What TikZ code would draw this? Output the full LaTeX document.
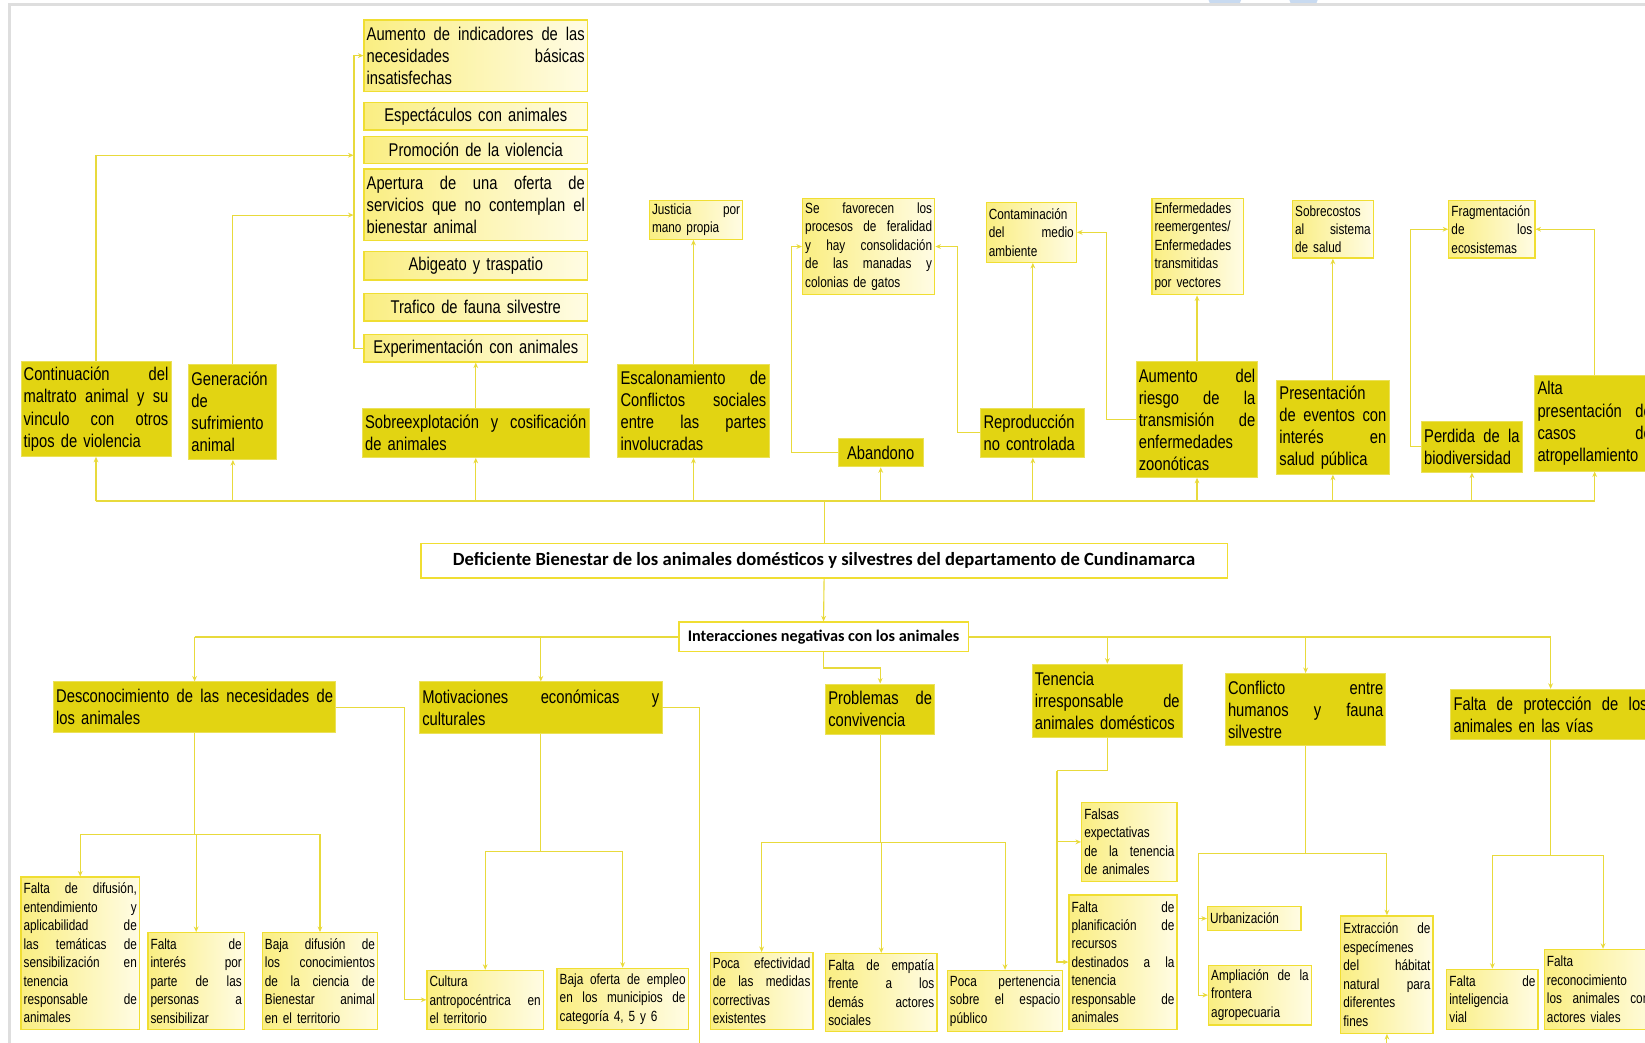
\documentclass[tikz,border=0pt]{standalone}
\usepackage{fontspec}
\setmainfont{Liberation Sans}[FakeStretch=0.8]
\newfontfamily\hdfont{Carlito}
\usepackage{tikz}
\usetikzlibrary{arrows.meta}

\definecolor{dkyel}{RGB}{226,212,18}
\definecolor{lnyel}{RGB}{232,218,60}
\definecolor{bdyel}{RGB}{240,222,50}
\definecolor{ltyelA}{RGB}{250,238,130}
\definecolor{ltyelB}{RGB}{255,252,228}
\definecolor{frgray}{RGB}{222,222,222}
\definecolor{blblue}{RGB}{200,218,240}

\newcommand{\bigtxt}{\fontsize{10}{12}\selectfont}
\newcommand{\smtxt}{\fontsize{8}{10}\selectfont}
% justified line inside a ragged node
\newcommand{\jl}[1]{\makebox[\linewidth][s]{\spaceskip=0.3em plus 1fil\relax #1}}

\begin{document}
\begin{tikzpicture}[
        x=0.02cm, y=-0.02cm,
        dark/.style={draw=dkyel!70!white, line width=0.5pt, fill=dkyel, font=\bigtxt, align=left, inner xsep=0.05cm, inner ysep=0.02cm},
        light/.style={draw=bdyel, line width=0.7pt, left color=ltyelA, right color=ltyelB, font=\bigtxt, align=left, inner xsep=0.05cm, inner ysep=0.02cm},
        lightsm/.style={light, font=\smtxt},
        head/.style={draw=bdyel, line width=0.8pt, fill=white, font=\hdfont\bfseries\fontsize{8.8}{10}\selectfont},
        ln/.style={draw=lnyel, line width=0.6pt},
        busln/.style={ln, line width=1.1pt},
        arr/.style={ln, -{Stealth[length=3pt,width=2.6pt]}}
    ]
    \useasboundingbox (0,0) rectangle (1568,994);

    % --- Page frame ---
    \fill[blblue] (1152,0) -- (1183,0) -- (1181,5) -- (1154,5) -- cycle;
    \fill[blblue] (1229,0) -- (1256,0) -- (1254,5) -- (1231,5) -- cycle;
    \draw[frgray, line width=1.5pt] (9,994) -- (9,4) -- (1568,4);

    % --- Effects: upper column ---
    \node[light, text width=4.16cm, minimum height=1.36cm] (indic) at (453.5,53) {\jl{Aumento de indicadores de las}\\ \jl{necesidades básicas}\\ insatisfechas};
    \node[light, text width=4.16cm, minimum height=0.52cm, align=center] (espec) at (453.5,111) {Espectáculos con animales};
    \node[light, text width=4.16cm, minimum height=0.52cm, align=center] (promo) at (453.5,143) {Promoción de la violencia};
    \node[light, text width=4.16cm, minimum height=1.36cm] (apert) at (453.5,195) {\jl{Apertura de una oferta de}\\ \jl{servicios que no contemplan el}\\ bienestar animal};
    \node[light, text width=4.16cm, minimum height=0.54cm, align=center] (abig) at (453.5,253.5) {Abigeato y traspatio};
    \node[light, text width=4.16cm, minimum height=0.52cm, align=center] (trafico) at (453.5,293) {Trafico de fauna silvestre};
    \node[light, text width=4.16cm, minimum height=0.52cm, align=center] (exper) at (453.5,332) {Experimentación con animales};

    % --- Effects: small boxes ---
    \node[lightsm, text width=1.68cm, minimum height=0.74cm] (justicia) at (663.5,209.5) {\jl{Justicia por}\\ mano propia};
    \node[lightsm, text width=2.42cm, minimum height=1.84cm] (feral) at (828,235) {\jl{Se favorecen los}\\ \jl{procesos de feralidad}\\ \jl{y hay consolidación}\\ \jl{de las manadas y}\\ colonias de gatos};
    \node[lightsm, text width=1.62cm, minimum height=1.14cm] (contam) at (983,221.5) {Contaminación\\ \jl{del medio}\\ ambiente};
    \node[lightsm, text width=1.64cm, minimum height=1.84cm] (enferm) at (1141.5,235) {Enfermedades\\ reemergentes/\\ Enfermedades\\ transmitidas\\ por vectores};
    \node[lightsm, text width=1.44cm, minimum height=1.10cm] (sobrecost) at (1270.5,218.5) {Sobrecostos\\ \jl{al sistema}\\ de salud};
    \node[lightsm, text width=1.54cm, minimum height=1.10cm] (fragm) at (1422,218.5) {Fragmentación\\ \jl{de los}\\ ecosistemas};

    % --- Effects: main row ---
    \node[dark, text width=2.76cm, minimum height=1.80cm] (maltrato) at (91.5,390) {\jl{Continuación del}\\ \jl{maltrato animal y su}\\ \jl{vinculo con otros}\\ tipos de violencia};
    \node[dark, text width=1.58cm, minimum height=1.82cm] (sufrim) at (222,392.5) {Generación\\ de\\ sufrimiento\\ animal};
    \node[dark, text width=4.22cm, minimum height=0.94cm] (sobreexp) at (453.5,412.5) {\jl{Sobreexplotación y cosificación}\\ de animales};
    \node[dark, text width=2.78cm, minimum height=1.78cm] (escal) at (661,391.5) {\jl{Escalonamiento de}\\ \jl{Conflictos sociales}\\ \jl{entre las partes}\\ involucradas};
    \node[dark, text width=1.52cm, minimum height=0.54cm, align=center] (abandono) at (839.5,431.5) {Abandono};
    \node[dark, text width=1.88cm, minimum height=0.94cm] (reprod) at (984.5,412.5) {Reproducción\\ no controlada};
    \node[dark, text width=2.22cm, minimum height=2.20cm] (riesgo) at (1141,400) {\jl{Aumento del}\\ \jl{riesgo de la}\\ \jl{transmisión de}\\ enfermedades\\ zoonóticas};
    \node[dark, text width=2.04cm, minimum height=1.78cm] (eventos) at (1270.5,407.5) {Presentación\\ \jl{de eventos con}\\ \jl{interés en}\\ salud pública};
    \node[dark, text width=1.82cm, minimum height=0.96cm] (biodiv) at (1403,426) {\jl{Perdida de la}\\ biodiversidad};
    \node[dark, text width=2.18cm, minimum height=1.82cm] (atropell) at (1520,403.5) {Alta\\ \jl{presentación de}\\ \jl{casos de}\\ atropellamiento};

    % --- Effect connectors ---
    \coordinate (inA) at (337,148);
    \coordinate (inB) at (337,205);
    \draw[arr] (exper.west) -- ++(-9,0) |- (indic.west);
    \draw[arr] (maltrato.north) |- (inA);
    \draw[arr] (sufrim.north) |- (inB);
    \draw[arr] (sobreexp.north) -- (exper.south);
    \draw[arr] (escal.north) -- (escal.north |- justicia.south);
    \draw[arr] (abandono.west) -- ++(-44,0) |- (feral.west);
    \draw[arr] (reprod.west) -- ++(-22,0) |- (feral.east);
    \draw[arr] (reprod.north) -- (reprod.north |- contam.south);
    \draw[arr] (riesgo.west) -- ++(-28,0) |- (contam.east);
    \draw[arr] (riesgo.north) -- (riesgo.north |- enferm.south);
    \draw[arr] (eventos.north) -- (eventos.north |- sobrecost.south);
    \draw[arr] (biodiv.west) -- ++(-10,0) |- (fragm.west);
    \draw[arr] (atropell.north) |- (fragm.east);

    % --- Problem ---
    \node[head, minimum width=15.38cm, minimum height=0.66cm, font=\hdfont\bfseries\fontsize{10.1}{12}\selectfont] (titulo) at (785.5,534.5) {Deficiente Bienestar de los animales domésticos y silvestres del departamento de Cundinamarca};
    \coordinate (bus) at (786,478);
    \draw[busln] (maltrato.south |- bus) -- (atropell.south |- bus);
    \foreach \n in {maltrato,sufrim,sobreexp,escal,abandono,reprod,riesgo,eventos,biodiv,atropell}
        \draw[arr] (\n.south |- bus) -- (\n.south);
    \draw[ln] (bus) -- (bus |- titulo.north);

    % --- Causes ---
    \node[head, minimum width=5.52cm, minimum height=0.56cm] (interac) at (785,607) {Interacciones negativas con los animales};
    \draw[arr] (titulo.south) -- (interac.north);

    \node[dark, text width=5.28cm, minimum height=0.96cm] (descon) at (185.5,674) {\jl{Desconocimiento de las necesidades de}\\ los animales};
    \node[dark, text width=4.52cm, minimum height=0.98cm] (motiv) at (515.5,674.5) {\jl{Motivaciones económicas y}\\ culturales};
    \node[dark, text width=1.98cm, minimum height=0.96cm] (conviv) at (839,676) {\jl{Problemas de}\\ convivencia};
    \node[dark, text width=2.76cm, minimum height=1.40cm] (tenencia) at (1055.5,668) {Tenencia\\ \jl{irresponsable de}\\ animales domésticos};
    \node[dark, text width=2.96cm, minimum height=1.38cm] (conflicto) at (1244.5,676.5) {\jl{Conflicto entre}\\ \jl{humanos y fauna}\\ silvestre};
    \node[dark, text width=3.70cm, minimum height=0.96cm] (proteccion) at (1478,681) {\jl{Falta de protección de los}\\ animales en las vías};

    \draw[busln] (descon.north |- interac.west) -- (interac.west);
    \draw[busln] (interac.east) -- (proteccion.north |- interac.east);
    \foreach \n in {descon,motiv,tenencia,conflicto,proteccion}
        \draw[arr] (\n.north |- interac.west) -- (\n.north);
    \draw[arr] (interac.south) -- ++(0,15) -| (conviv.north);

    % --- Sub-causes ---
    \node[lightsm, text width=2.16cm, minimum height=2.90cm] (difus) at (76.5,908.5) {\jl{Falta de difusión,}\\ \jl{entendimiento y}\\ \jl{aplicabilidad de}\\ \jl{las temáticas de}\\ \jl{sensibilización en}\\ tenencia\\ \jl{responsable de}\\ animales};
    \node[lightsm, text width=1.74cm, minimum height=1.84cm] (interes) at (187,935) {\jl{Falta de}\\ \jl{interés por}\\ \jl{parte de las}\\ \jl{personas a}\\ sensibilizar};
    \node[lightsm, text width=2.10cm, minimum height=1.84cm] (ciencia) at (305,935) {\jl{Baja difusión de}\\ \jl{los conocimientos}\\ \jl{de la ciencia de}\\ \jl{Bienestar animal}\\ en el territorio};
    \node[lightsm, text width=2.12cm, minimum height=1.12cm] (cultura) at (462.5,953) {Cultura\\ \jl{antropocéntrica en}\\ el territorio};
    \node[lightsm, text width=2.40cm, minimum height=1.16cm] (empleo) at (593.5,952) {\jl{Baja oferta de empleo}\\ \jl{en los municipios de}\\ categoría 4, 5 y 6};
    \node[lightsm, text width=1.86cm, minimum height=1.46cm] (efect) at (726,944.5) {\jl{Poca efectividad}\\ \jl{de las medidas}\\ correctivas\\ existentes};
    \node[lightsm, text width=2.02cm, minimum height=1.48cm] (empatia) at (840,946) {\jl{Falta de empatía}\\ \jl{frente a los}\\ \jl{demás actores}\\ sociales};
    \node[lightsm, text width=2.10cm, minimum height=1.16cm] (pertenen) at (958,954) {\jl{Poca pertenencia}\\ \jl{sobre el espacio}\\ público};
    \node[lightsm, text width=1.72cm, minimum height=1.50cm] (falsas) at (1076.5,802.5) {Falsas\\ expectativas\\ \jl{de la tenencia}\\ de animales};
    \node[lightsm, text width=1.96cm, minimum height=2.56cm] (planif) at (1070.5,917) {\jl{Falta de}\\ \jl{planificación de}\\ recursos\\ \jl{destinados a la}\\ tenencia\\ \jl{responsable de}\\ animales};
    \node[lightsm, text width=1.68cm, minimum height=0.46cm] (urban) at (1195.5,875.5) {Urbanización};
    \node[lightsm, text width=1.86cm, minimum height=1.14cm] (amplia) at (1201,948.5) {\jl{Ampliación de la}\\ frontera\\ agropecuaria};
    \node[lightsm, text width=1.66cm, minimum height=2.24cm] (extrac) at (1322,929) {\jl{Extracción de}\\ especímenes\\ \jl{del hábitat}\\ \jl{natural para}\\ diferentes\\ fines};
    \node[lightsm, text width=1.64cm, minimum height=1.14cm] (vial) at (1422.5,952.5) {\jl{Falta de}\\ inteligencia\\ vial};
    \node[lightsm, text width=2.14cm, minimum height=1.52cm] (reconoc) at (1528,943) {\jl{Falta de}\\ \jl{reconocimiento de}\\ \jl{los animales como}\\ actores viales};

    % --- Sub-cause connectors ---
    \draw[ln] (descon.south) -- ++(0,97) coordinate (j1);
    \draw[arr] (j1) -| (difus.north);
    \draw[arr] (j1) -| (interes.north);
    \draw[arr] (j1) -| (ciencia.north);
    \draw[arr] (descon.east) -- ++(65,0) |- (cultura.west);

    \draw[ln] (motiv.south) -- ++(0,112) coordinate (j2);
    \draw[arr] (j2) -| (cultura.north);
    \draw[arr] (j2) -| (empleo.north);
    \coordinate (sal1) at (667,994);
    \draw[ln] (motiv.east) -| (sal1);

    \draw[ln] (conviv.south) -- ++(0,103) coordinate (j3);
    \draw[arr] (j3) -| (efect.north);
    \draw[arr] (j3) -| (empatia.north);
    \draw[arr] (j3) -| (pertenen.north);

    \draw[ln] (tenencia.south) -- ++(0,31) -- ++(-48,0) coordinate (j4);
    \draw[arr] (j4) |- (falsas.west);
    \draw[arr] (j4) |- (planif.west);

    \draw[ln] (conflicto.south) -- ++(0,102) coordinate (j5) -- ++(-102,0) coordinate (j5a);
    \draw[arr] (j5a) |- (urban.west);
    \draw[arr] (j5a) |- (amplia.west);
    \draw[arr] (j5) -| (extrac.north);
    \coordinate (sal2) at (1322,994);
    \draw[arr] (sal2) -- (extrac.south);

    \draw[ln] (proteccion.south) -- ++(0,110) coordinate (j6);
    \draw[arr] (j6) -| (vial.north);
    \draw[arr] (j6) -| (reconoc.north);

\end{tikzpicture}
\end{document}
